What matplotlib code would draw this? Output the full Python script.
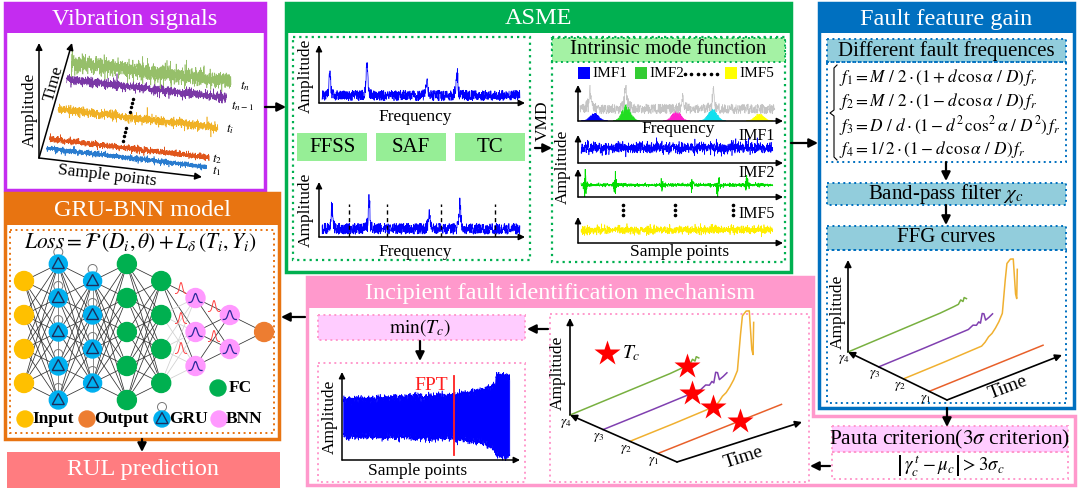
"""Framework diagram: vibration signals -> ASME -> FFG -> FPT -> GRU-BNN RUL prediction."""

import numpy as np
import matplotlib

matplotlib.use("Agg")
import matplotlib.pyplot as plt
from matplotlib.patches import Circle, Polygon, Rectangle

plt.rcParams["font.family"] = ["Liberation Serif", "DejaVu Serif"]
plt.rcParams["mathtext.fontset"] = "stix"

# ---- values -----------------------------------------------------------------
# vibration snapshots (bottom to top): time level on the Time axis, noise size
snapshot_labels = [r"$t_1$", r"$t_2$", r"$t_i$", r"$t_{n-1}$", r"$t_n$"]
snapshot_time = [0.09, 0.17, 0.43, 0.69, 0.83]
snapshot_amp = [3.4, 3.8, 5.5, 5.5, 11.0]
snapshot_colors = ["#2a7ccf", "#e0561c", "#f0b125", "#7a38a6", "#7cb045"]

# raw and filtered envelope spectra (axis fractions)
raw_peak_freq = [0.053, 0.233, 0.524, 0.670]
raw_peak_height = [0.41, 0.57, 0.33, 0.41]
filtered_peak_freq = [0.063, 0.243, 0.534, 0.684]
filtered_peak_height = [0.44, 0.56, 0.31, 0.49]
fault_freq_marks = [0.146, 0.330, 0.592, 0.854]
method_boxes = ["FFSS", "SAF", "TC"]

# VMD spectrum and modes
gray_peak_freq = [0.059, 0.234, 0.512, 0.660]
gray_peak_height = [0.55, 0.75, 0.35, 0.5]
mode_centre = [0.078, 0.234, 0.478, 0.654, 0.883]
mode_height = [0.22, 0.48, 0.30, 0.36, 0.22]
mode_colors = ["#0000ff", "#22dd22", "#ff22cc", "#11e0ee", "#ffff00"]
imf2_bursts = [0.034, 0.18, 0.41, 0.556, 0.683, 0.824]
imf2_burst_amp = [0.30, 0.22, 0.18, 0.18, 0.28, 0.18]

# fault characteristic frequencies
fault_formulas = [
    r"$f_1=M\ /\ 2\cdot(1+d\,\cos\alpha\ /\ D)\,f_r$",
    r"$f_2=M\ /\ 2\cdot(1-d\,\cos\alpha\ /\ D)\,f_r$",
    r"$f_3=D\ /\ d\cdot(1-d^2\,\cos^2\alpha\ /\ D^2)\,f_r$",
    r"$f_4=1/\,2\cdot(1-d\,\cos\alpha\ /\ D)\,f_r$",
]

# FFG curves gamma1..gamma4: time fraction and amplitude
ffg_t = [
    [0.0, 0.5, 0.99],
    [0.0, 0.35, 0.68, 0.71, 0.74, 0.77, 0.80, 0.83, 0.86, 0.885, 0.90, 0.93, 0.955, 0.975, 0.985, 0.99],
    [0.0, 0.4, 0.78, 0.82, 0.85, 0.87, 0.885, 0.90, 0.915, 0.93, 0.96, 0.99],
    [0.0, 0.4, 0.8, 0.92, 0.96, 0.98, 1.0, 1.01, 1.03],
]
ffg_a = [
    [0.0, 0.3, 0.6],
    [0.0, 0.5, 1.5, 4.0, 8.0, 10.0, 14.0, 19.0, 26.0, 58.0, 74.0, 77.0, 76.0, 40.0, 35.0, 64.0],
    [0.0, 0.6, 1.5, 4.0, 2.5, 5.0, 3.0, 12.0, 11.0, 4.0, 5.5, 7.5],
    [0.0, 1.0, 2.0, 3.0, 3.5, 7.0, 4.5, 8.0, 6.0],
]
ffg_colors = ["#e8602a", "#f0b030", "#8040b0", "#78b040"]
gamma_pos = [0.82, 0.56, 0.31, 0.0]
tc_star_t = [0.656, 0.664, 0.712, 0.936]

# degradation signal used to mark the FPT
env_x = [0.006, 0.30, 0.62, 0.75, 0.83, 0.855, 0.865, 0.90, 0.94]
env_top = [0.69, 0.71, 0.74, 0.78, 0.83, 0.85, 0.97, 0.96, 0.94]
env_bottom = [0.28, 0.27, 0.26, 0.22, 0.17, 0.12, 0.06, 0.05, 0.07]
fpt_position = 0.63

# GRU-BNN network
layer_sizes = [4, 5, 4, 5, 4, 3, 2, 1]
layer_kinds = ["input", "gru", "gru", "fc", "fc", "bnn", "bnn", "output"]
node_colors = {"input": "#ffc000", "gru": "#00b0f0", "fc": "#00b050",
               "bnn": "#ff99ff", "output": "#ed7d31"}

PURPLE = "#c42cf0"
ORANGE = "#e87411"
GREEN = "#00b050"
BLUE = "#0070c0"
PINK = "#ff99cc"
TEAL = "#92cddc"
LGREEN = "#96ee96"
LPINK = "#ffccff"

rng = np.random.default_rng(3)  # only for the noise texture of the signals

W, H = 1080, 492
fig = plt.figure(figsize=(W / 100, H / 100), dpi=100)
ax = fig.add_axes([0, 0, 1, 1])
ax.set_xlim(0, W)
ax.set_ylim(H, 0)
ax.axis("off")

DOT = (0, (1, 1.8))


def rect(x0, y0, x1, y1, fc="none", ec="none", lw=1.0, ls="-", z=2):
    ax.add_patch(Rectangle((x0, y0), x1 - x0, y1 - y0, facecolor=fc,
                           edgecolor=ec, lw=lw, linestyle=ls, zorder=z))


def panel(x0, y0, x1, y1, head, color, title):
    rect(x0, y0, x1, head, fc=color, z=2)
    rect(x0, y0, x1, y1, ec=color, lw=2.5, z=3)
    ax.text((x0 + x1) / 2, (y0 + head) / 2 + 1, title, color="white",
            fontsize=17.5, ha="center", va="center", zorder=4)


def arrow(x0, y0, x1, y1, lw=1.6, ms=13):
    ax.annotate("", xy=(x1, y1), xytext=(x0, y0),
                arrowprops=dict(arrowstyle="-|>", color="black", lw=lw,
                                mutation_scale=ms, shrinkA=0, shrinkB=0),
                zorder=6)


def text(x, y, s, size=12, rot=0, **kw):
    kw.setdefault("ha", "center")
    kw.setdefault("va", "center")
    ax.text(x, y, s, fontsize=size, rotation=rot, rotation_mode="anchor",
            zorder=7, **kw)


def inset(x0, y0, x1, y1):
    """Small plot whose origin is (x0, y1) and arrow tips at x1 / y0 (pixels)."""
    a = fig.add_axes([x0 / W, 1 - y1 / H, (x1 - x0) / W, (y1 - y0) / H])
    a.set_xlim(0, 1)
    a.set_ylim(0, 1)
    a.axis("off")
    for tip in [(0, 1), (1, 0)]:
        a.annotate("", xy=tip, xytext=(0, 0), xycoords="axes fraction",
                   arrowprops=dict(arrowstyle="-|>", color="black", lw=1.1,
                                   mutation_scale=9, shrinkA=0, shrinkB=0))
    return a


def spectrum(a, freqs, heights, base, spread, color, n=900):
    f = np.linspace(0.015, 0.975, n)
    y = base + spread * rng.random(n)
    for pf, ph in zip(freqs, heights):
        y += 0.3 * ph * np.exp(-((f - pf) / 0.014) ** 2) * rng.random(n)
        y += ph * np.exp(-((f - pf) / 0.005) ** 2) * (0.55 + 0.45 * rng.random(n))
    a.plot(f, y, color=color, lw=0.55)


# ---- panels ------------------------------------------------------------------
panel(5, 3, 265, 190, 33, PURPLE, "Vibration signals")
panel(286, 3, 791, 272, 33, GREEN, "ASME")
panel(819, 3, 1074, 408, 33, BLUE, "Fault feature gain")
panel(5, 193, 279, 439, 225, ORANGE, "GRU-BNN model")

ax.add_patch(Polygon([(307, 277), (813, 277), (813, 416), (1075, 416),
                      (1075, 485), (307, 485)], closed=True, fill=False,
                     ec=PINK, lw=2.5, zorder=3))
rect(307, 277, 813, 308, fc=PINK)
text(560, 293, "Incipient fault identification mechanism", 17.5, color="white")

rect(7, 452, 280, 488, fc="#ff7c80")
text(143, 470, "RUL prediction", 17.5, color="white")

# flow arrows
arrow(265, 107, 286, 107)
arrow(791, 143, 818, 143)
arrow(305, 317, 281, 317)
arrow(142, 439, 142, 452)
arrow(947, 408, 947, 427)
arrow(830, 466, 810, 466)
arrow(548, 329, 527, 329)
arrow(420, 341, 420, 361)

# ---- vibration signals -------------------------------------------------------
VO = np.array([39.0, 158.0])
SV = np.array([163.0, 19.0])
TV = np.array([33.0, -115.0])
arrow(*VO, VO[0], 43, lw=1.1, ms=10)
arrow(*VO, *(VO + TV), lw=1.1, ms=10)
arrow(*VO, *(VO + SV), lw=1.1, ms=10)
text(30, 110, "Amplitude", 12.5, rot=90)
text(54, 84, "Time", 12.5, rot=74)
text(107, 176, "Sample points", 12.5, rot=-6.6)

label_shift = [(10, 4), (8, 1), (12, 1), (16, 8), (14, 4)]
for k in range(4, -1, -1):
    tau, amp, col = snapshot_time[k], snapshot_amp[k], snapshot_colors[k]
    s = np.linspace(0.03, 1.01, 1600)
    bx = VO[0] + tau * TV[0] + s * SV[0]
    by = VO[1] + tau * TV[1] + s * SV[1]
    noise = rng.normal(0, amp / 2.6, s.size)
    spikes = rng.random(s.size) < 0.03
    noise[spikes] *= 2.0
    ax.plot(bx, by - noise, color=col, lw=0.45, zorder=4,
            alpha=0.8 if k == 4 else 1.0)
    ex, ey = bx[-1] + label_shift[k][0], by[-1] + label_shift[k][1]
    text(ex, ey, snapshot_labels[k], 9.5)
for x0, y0 in [(133, 99), (126, 128)]:
    ax.scatter(x0 - np.arange(4) * 1.0, y0 + np.arange(4) * 4.2, s=2.2,
               color="black", zorder=5)

# ---- ASME --------------------------------------------------------------------
rect(293, 37, 530, 260, ec=GREEN, lw=1.6, ls=DOT)
rect(552, 37, 785, 262, ec=GREEN, lw=1.6, ls=DOT)

a = inset(319, 45, 525, 103)
spectrum(a, raw_peak_freq, raw_peak_height, 0.04, 0.18, "#0000ff")
text(306, 76, "Amplitude", 12.5, rot=90)
text(415, 117, "Frequency", 12.5)

for name, x0, x1 in zip(method_boxes, [297, 376, 455], [367, 446, 525]):
    rect(x0, 133, x1, 161, fc=LGREEN)
    text((x0 + x1) / 2, 147.5, name, 15)

a = inset(319, 182, 525, 237)
spectrum(a, filtered_peak_freq, filtered_peak_height, 0.05, 0.2, "#0000ff")
for f in fault_freq_marks:
    a.plot([f, f], [0, 0.6], color="black", lw=1.0, ls=(0, (3, 2.5)))
text(306, 210, "Amplitude", 12.5, rot=90)
text(415, 252, "Frequency", 12.5)

text(543, 121, "VMD", 12.5, rot=90)
arrow(535, 148, 552, 148)

rect(552, 38, 785, 62, fc="#a4f2a4", ec=GREEN, lw=1.4, ls=DOT)
text(668, 50, "Intrinsic mode function", 15)
for x0, name, col in zip([578, 635, 725], ["IMF1", "IMF2", "IMF5"],
                         [mode_colors[0], "#33cc33", mode_colors[4]]):
    rect(x0, 67, x0 + 12, 79, fc=col, z=4)
    text(x0 + 14, 73.5, name, 11, ha="left")
ax.scatter(np.linspace(685, 717, 6), [74] * 6, s=2.5, color="black", zorder=5)

a = inset(578, 85, 783, 121)
f = np.linspace(0.01, 0.96, 800)
g = 0.2 + 0.27 * rng.random(f.size)
for pf, ph in zip(gray_peak_freq, gray_peak_height):
    g += 0.5 * ph * np.exp(-((f - pf) / 0.02) ** 2) * rng.random(f.size)
    g += ph * np.exp(-((f - pf) / 0.005) ** 2) * (0.6 + 0.4 * rng.random(f.size))
a.plot(f, g, color="#c4c4c4", lw=0.5)
for c, h, col in zip(mode_centre, mode_height, mode_colors):
    x = np.linspace(c - 0.065, c + 0.065, 120)
    y = h * np.exp(-((x - c) / 0.03) ** 2) * (0.55 + 0.45 * rng.random(x.size))
    a.fill_between(x, 0.02, 0.02 + y, color=col, lw=0.3)
text(678, 129, "Frequency", 12.5)

x = np.linspace(0.015, 0.95, 1200)
a = inset(578, 135, 783, 163)
a.plot(x, 0.54 + rng.normal(0, 0.08, x.size) * (1 + 0.6 * rng.random(x.size)),
       color="#0000ff", lw=0.45)
a = inset(578, 169, 783, 197)
y = rng.normal(0, 0.03, x.size)
for b, amp in zip(imf2_bursts, imf2_burst_amp):
    y += amp * np.exp(-((x - b) / 0.008) ** 2) * rng.normal(0, 1.0, x.size)
a.plot(x, 0.43 + y, color="#00dd00", lw=0.5)
a = inset(578, 217, 783, 243)
mod = 0.7 + 0.3 * np.abs(np.sin(x * 40))
a.plot(x, 0.5 + rng.normal(0, 0.09, x.size) * mod, color="#ffee00", lw=0.5)
for lbl, yy in zip(["IMF1", "IMF2", "IMF5"], [136, 173, 214]):
    text(757, yy, lbl, 11.5)
for xx in [623, 675, 733]:
    ax.scatter([xx] * 3, [205, 210, 215], s=2.5, color="black", zorder=5)
text(563, 167, "Amplitude", 12.5, rot=90)
text(680, 252, "Sample points", 12.5)

# ---- fault feature gain ------------------------------------------------------
rect(827, 39, 1066, 62, fc=TEAL, ec=BLUE, lw=1.4, ls=DOT)
text(946, 51, "Different fault frequences", 15)
rect(827, 62, 1066, 162, ec=BLUE, lw=1.4, ls=DOT)
for eq, yy in zip(fault_formulas, [77, 101, 126, 150]):
    text(839, yy, eq, 12.4, ha="left")
bx = np.array([837, 834, 834, 830, 834, 834, 837])
by = np.array([65, 68, 110, 113, 116, 157, 160])
ax.plot(bx, by, color="black", lw=0.8, zorder=5)
arrow(946, 162, 946, 181)
rect(827, 183, 1066, 205, fc=TEAL, ec=BLUE, lw=1.4, ls=DOT)
text(946, 194, r"Band-pass filter $\chi_c$", 15)
arrow(946, 205, 946, 225)
rect(827, 226, 1066, 250, fc=TEAL, ec=BLUE, lw=1.4, ls=DOT)
text(946, 238, "FFG curves", 15)
rect(827, 250, 1066, 403, ec=BLUE, lw=1.4, ls=DOT)


def waterfall(origin, gamma_end, time_end, top, step, scale, stars=False):
    ox, oy = origin
    gx, gy = gamma_end
    arrow(ox, oy, ox, top, lw=1.2, ms=10)
    arrow(gx, gy, ox, oy, lw=1.2, ms=10)
    arrow(gx, gy, *time_end, lw=1.2, ms=10)
    for k in range(4):
        sx = ox + gamma_pos[k] * (gx - ox)
        sy = oy + gamma_pos[k] * (gy - oy)
        t = np.asarray(ffg_t[k])
        amp = np.asarray(ffg_a[k])
        ax.plot(sx + t * step[0], sy + t * step[1] - amp * scale,
                color=ffg_colors[k], lw=1.1, zorder=5)
        text(sx - 4, sy + 8, r"$\gamma_%d$" % (k + 1), 9.5)
        if stars:
            ts = tc_star_t[k]
            amp_s = np.interp(ts, t, amp)
            ax.plot(sx + ts * step[0], sy + ts * step[1] - amp_s * scale,
                    marker="*", ms=19, color="#ff0000", mec="none", zorder=6)


waterfall((848, 352), (947, 400), (1062, 355), 260, (115, -46), 1.0)
text(838, 312, "Amplitude", 12.5, rot=90)
text(1008, 388, "Time", 14, rot=21)

# ---- incipient fault identification ------------------------------------------
rect(318, 315, 525, 340, fc=LPINK, ec=PINK, lw=1.4, ls=DOT)
text(420, 328, r"$\mathrm{min}(T_c)$", 14)
rect(318, 363, 525, 482, ec=PINK, lw=1.4, ls=DOT)
a = inset(342, 372, 520, 460)
x = np.linspace(env_x[0], env_x[-1], 900)
top = np.interp(x, env_x, env_top) + 0.022 * rng.standard_normal(x.size)
bot = np.interp(x, env_x, env_bottom) - 0.022 * rng.standard_normal(x.size)
a.fill_between(x, bot, top, color="#0000ff", lw=0.4)
a.plot([fpt_position] * 2, [0.06, 0.95], color="#ff2020", lw=1.3)
text(431, 385, "FPT", 14, color="#ff2020")
text(330, 417, "Amplitude", 12.5, rot=90)
text(418, 471, "Sample points", 12.5)

rect(550, 314, 809, 482, ec=PINK, lw=1.4, ls=DOT)
waterfall((570, 415), (677, 462), (802, 422), 318, (125, -49), 1.1, stars=True)
ax.plot(607, 353, marker="*", ms=19, color="#ff0000", mec="none", zorder=6)
text(622, 353, r"$T_c$", 14, ha="left")
text(558, 373, "Amplitude", 12.5, rot=90)
text(744, 457, "Time", 14, rot=18)

rect(832, 426, 1068, 452, fc=LPINK, ec=PINK, lw=1.4, ls=DOT)
text(950, 439, r"Pauta criterion($3\sigma$ criterion)", 15.5)
rect(832, 452, 1068, 479, ec=PINK, lw=1.4, ls=DOT)
text(950, 466, r"$\left|\,\gamma_c^{\,t}-\mu_c\right|>3\sigma_c$", 13.5)

# ---- GRU-BNN network ---------------------------------------------------------
rect(10, 230, 274, 433, ec=ORANGE, lw=1.4, ls=DOT)
text(140, 243, r"$Loss=\mathcal{F}\,(D_i,\theta)+L_\delta\,(T_i,Y_i)$", 15.5)

layer_x = [24 + 34.3 * k for k in range(len(layer_sizes))]
layer_y = [[332 + (i - (n - 1) / 2) * 34 for i in range(n)] for n in layer_sizes]
for k in range(len(layer_sizes) - 1):
    for i, y0 in enumerate(layer_y[k]):
        for y1 in layer_y[k + 1]:
            faint = layer_kinds[k] == "fc" and layer_kinds[k + 1] == "bnn" and i > 0
            ax.plot([layer_x[k], layer_x[k + 1]], [y0, y1],
                    color="#d0d0d0" if faint else "#303030", lw=0.55, zorder=3)


def gru_node(x0, y0, r=9):
    ax.add_patch(Circle((x0, y0 - 12), 4.5, fill=False, ec="#777777", lw=0.7, zorder=4))
    ax.add_patch(Circle((x0, y0), r, color=node_colors["gru"], zorder=5))
    ax.add_patch(Polygon([(x0, y0 - 6.5), (x0 - 6, y0 + 4.5), (x0 + 6, y0 + 4.5)],
                         closed=True, fill=False, ec="#1c2f5e", lw=1.0, zorder=6))


def bell(cx, cy, w, h, color, lw=0.8, z=6):
    u = np.linspace(-1, 1, 40)
    ax.plot(cx + u * w / 2, cy + h / 2 - h * np.exp(-(2.6 * u) ** 2),
            color=color, lw=lw, zorder=z)


for k, kind in enumerate(layer_kinds):
    if kind == "gru":
        ax.plot([layer_x[k]] * 2, [layer_y[k][0], layer_y[k][-1]],
                color="#888888", lw=0.7, zorder=3)
    for y0 in layer_y[k]:
        if kind == "gru":
            gru_node(layer_x[k], y0)
        else:
            ax.add_patch(Circle((layer_x[k], y0), 9.5, color=node_colors[kind], zorder=5))
        if kind == "bnn":
            bell(layer_x[k], y0, 13, 9, "#2a2a9a", lw=0.9)

for cx, cy in [(181, 288), (181, 318), (181, 348), (214, 306), (214, 336)]:
    bell(cx, cy, 11, 11, "#ff4040", lw=0.7, z=4)

ax.add_patch(Circle((218, 388), 8, color=node_colors["fc"], zorder=5))
text(229, 388, "FC", 12.5, ha="left", weight="bold")
for x0, kind, name in zip([25, 87, 162, 219], ["input", "output", "gru", "bnn"],
                          ["Input", "Output", "GRU", "BNN"]):
    if kind == "gru":
        gru_node(x0, 419, r=8)
    else:
        ax.add_patch(Circle((x0, 419), 8, color=node_colors[kind], zorder=5))
    text(x0 + 7, 419, name, 12.5, ha="left", weight="bold")

fig.savefig("out.png", dpi=100)
